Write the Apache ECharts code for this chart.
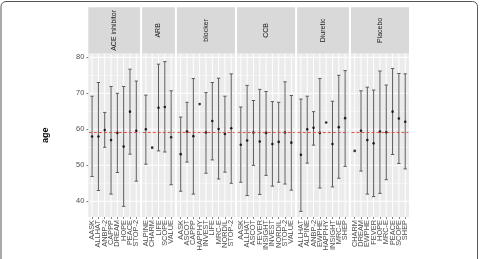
<!DOCTYPE html>
<html>
<head>
<meta charset="utf-8">
<script src="https://cdn.jsdelivr.net/npm/echarts@6/dist/echarts.min.js"></script>
<style>
  html, body { margin: 0; padding: 0; background: #ffffff; }
  #chart { width: 480px; height: 259px; }
</style>
</head>
<body>
<div id="chart"></div>
<script>
// overall mean age (red dashed line) and y tick values
const meanAge = 59.2;
const yTicks = [40, 50, 60, 70, 80];
const yMinor = [45, 55, 65, 75];

const drugClasses = ['ACE inhibitor', 'ARB', 'blocker', 'CCB', 'Diuretic', 'Placebo'];

const aceTrials = ['AASK', 'ALLHAT', 'ANBP-2', 'CAPPP', 'DREAM', 'HOPE', 'PEACE', 'STOP-2'];
const aceAge  = [58.0, 58.0, 59.8, 57.0, 59.0, 55.2, 64.9, 59.6];
const aceLow  = [46.9, 43.0, 55.0, 42.0, 48.0, 38.6, 53.1, 45.6];
const aceHigh = [69.2, 73.0, 64.7, 71.9, 70.0, 71.9, 76.7, 73.4];

const arbTrials = ['ALPINE', 'CHARM', 'LIFE', 'SCOPE', 'VALUE'];
const arbAge  = [60.0, 54.9, 66.0, 66.2, 57.8];
const arbLow  = [50.3, null, 54.0, 53.7, 44.6];
const arbHigh = [69.5, null, 78.1, 78.8, 70.7];

const blockerTrials = ['AASK', 'ASCOT', 'CAPPP', 'HAPPHY', 'INVEST', 'LIFE', 'MRC-E', 'NORDIL', 'STOP-2'];
const blockerAge  = [53.1, 59.4, 58.1, 67.0, 59.1, 62.3, 60.1, 58.7, 60.3];
const blockerLow  = [42.8, 50.9, 42.0, null, 47.8, 51.5, 46.2, 48.1, 45.0];
const blockerHigh = [63.4, 67.5, 74.1, null, 70.2, 73.0, 74.2, 69.2, 75.4];

const ccbTrials = ['AASK', 'ALLHAT', 'ASCOT', 'FEVER', 'INSIGHT', 'INVEST', 'NORDIL', 'STOP-2', 'VALUE'];
const ccbAge  = [55.7, 56.9, 59.1, 56.6, 59.0, 55.9, 56.5, 59.1, 56.3];
const ccbLow  = [45.3, 41.6, 50.0, 41.9, 47.2, 44.2, 45.3, 44.8, 43.1];
const ccbHigh = [66.2, 72.2, 68.0, 71.1, 70.5, 67.7, 67.5, 73.2, 69.4];

const diureticTrials = ['ALLHAT', 'ALPINE', 'ANBP-2', 'EWPHE', 'HAPPHY', 'INSIGHT', 'MRC-E', 'SHEP'];
const diureticAge  = [52.9, 60.0, 60.4, 59.0, 61.9, 55.9, 60.6, 63.1];
const diureticLow  = [37.2, 50.6, 55.6, 43.7, null, 44.0, 46.4, 49.7];
const diureticHigh = [68.4, 69.2, 64.9, 74.1, null, 67.8, 75.0, 76.3];

const placeboTrials = ['CHARM', 'DREAM', 'EWPHE', 'FEVER', 'HOPE', 'MRC-E', 'PEACE', 'SCOPE', 'SHEP'];
const placeboAge  = [54.0, 59.6, 57.0, 56.1, 59.4, 59.2, 64.9, 63.0, 62.1];
const placeboLow  = [null, 48.4, 42.0, 41.3, 42.2, 46.0, 53.0, 50.5, 49.0];
const placeboHigh = [null, 70.7, 71.7, 70.9, 76.2, 72.3, 76.9, 75.5, 75.4];

const panelData = [
  [aceTrials, aceAge, aceLow, aceHigh],
  [arbTrials, arbAge, arbLow, arbHigh],
  [blockerTrials, blockerAge, blockerLow, blockerHigh],
  [ccbTrials, ccbAge, ccbLow, ccbHigh],
  [diureticTrials, diureticAge, diureticLow, diureticHigh],
  [placeboTrials, placeboAge, placeboLow, placeboHigh]
];

// layout (ggplot-like facets)
const step = 6.315;      // px per category
const gap = 2;           // space between panels
const plotLeft = 88.3;
const plotTop = 53.5;
const plotBottom = 217;
const stripTop = 7.3;
const yMin = 35.64, yMax = 81.06;
const font = 'Liberation Sans';

let myChart = echarts.init(document.getElementById('chart'), null, { renderer: 'canvas' });

let grids = [], xAxes = [], yAxes = [], series = [], graphics = [];
let left = plotLeft;

panelData.forEach(function (p, k) {
  let trials = p[0], age = p[1], low = p[2], high = p[3];
  let n = trials.length;
  let panelW = (n + 0.2) * step;

  grids.push({ left: left + 0.1 * step, top: plotTop, width: n * step, height: plotBottom - plotTop });

  xAxes.push({
    gridIndex: k, type: 'category', data: trials, boundaryGap: true,
    axisLine: { show: false },
    axisTick: { show: true, alignWithLabel: true, length: 2, lineStyle: { color: '#333333', width: 0.6 } },
    axisLabel: { rotate: 90, interval: 0, fontSize: 7.4, fontFamily: font, color: '#4D4D4D', margin: 3 },
    splitLine: { show: false }
  });

  yAxes.push({
    gridIndex: k, type: 'value', min: yMin, max: yMax,
    offset: 0.1 * step,
    name: k === 0 ? 'age' : '',
    nameLocation: 'middle', nameGap: 38, nameRotate: 90,
    nameTextStyle: { fontWeight: 'bold', fontSize: 9, fontFamily: font, color: '#000000' },
    axisLine: { show: false },
    axisTick: { show: k === 0, length: 2, customValues: yTicks, lineStyle: { color: '#333333', width: 0.6 } },
    axisLabel: {
      show: k === 0, customValues: yTicks, fontSize: 7.4, fontFamily: font, color: '#4D4D4D', margin: 4,
      formatter: function (v) { return yTicks.indexOf(v) >= 0 ? String(v) : ''; }
    },
    splitLine: { show: false }
  });

  // panel background + white grid lines
  series.push({
    type: 'custom', xAxisIndex: k, yAxisIndex: k, z: 0, silent: true,
    data: [[0, 60]],
    renderItem: function (params, api) {
      let cs = params.coordSys;
      let pad = api.size([1, 0])[0] * 0.1;
      let kids = [{
        type: 'rect',
        shape: { x: cs.x - pad, y: cs.y, width: cs.width + 2 * pad, height: cs.height },
        style: { fill: '#EBEBEB' }
      }];
      yMinor.forEach(function (v) {
        let y = api.coord([0, v])[1];
        kids.push({ type: 'line', shape: { x1: cs.x - pad, y1: y, x2: cs.x + cs.width + pad, y2: y },
          style: { stroke: '#FFFFFF', lineWidth: 0.5 } });
      });
      yTicks.forEach(function (v) {
        let y = api.coord([0, v])[1];
        kids.push({ type: 'line', shape: { x1: cs.x - pad, y1: y, x2: cs.x + cs.width + pad, y2: y },
          style: { stroke: '#FFFFFF', lineWidth: 1 } });
      });
      for (let i = 0; i < n; i++) {
        let x = api.coord([i, 60])[0];
        kids.push({ type: 'line', shape: { x1: x, y1: cs.y, x2: x, y2: cs.y + cs.height },
          style: { stroke: '#FFFFFF', lineWidth: 1 } });
      }
      return { type: 'group', children: kids };
    }
  });

  // error bars
  let bars = [];
  for (let i = 0; i < n; i++) {
    if (low[i] != null) bars.push([i, low[i], high[i]]);
  }
  series.push({
    type: 'custom', xAxisIndex: k, yAxisIndex: k, z: 3, silent: true,
    encode: { x: 0, y: [1, 2] },
    data: bars,
    renderItem: function (params, api) {
      let lo = api.coord([api.value(0), api.value(1)]);
      let hi = api.coord([api.value(0), api.value(2)]);
      let hw = api.size([1, 0])[0] * 0.26;
      let st = { stroke: '#5A5A5A', lineWidth: 1 };
      return {
        type: 'group',
        children: [
          { type: 'line', shape: { x1: lo[0], y1: lo[1], x2: hi[0], y2: hi[1] }, style: st },
          { type: 'line', shape: { x1: lo[0] - hw, y1: lo[1], x2: lo[0] + hw, y2: lo[1] }, style: st },
          { type: 'line', shape: { x1: hi[0] - hw, y1: hi[1], x2: hi[0] + hw, y2: hi[1] }, style: st }
        ]
      };
    }
  });

  // mean age points + overall mean line
  series.push({
    type: 'scatter', xAxisIndex: k, yAxisIndex: k, z: 4, silent: true,
    symbol: 'circle', symbolSize: 2.6,
    itemStyle: { color: '#000000' },
    data: age.map(function (v, i) { return [i, v]; }),
    markLine: {
      silent: true, symbol: 'none', animation: false,
      label: { show: false },
      lineStyle: { color: '#E8413C', type: [3, 2], width: 0.9 },
      data: [{ yAxis: meanAge }]
    }
  });

  // facet strip
  graphics.push({
    type: 'rect', z: 1,
    shape: { x: left, y: stripTop, width: panelW, height: plotTop - stripTop },
    style: { fill: '#D9D9D9' }
  });
  graphics.push({
    type: 'text', z: 2,
    x: left + panelW / 2, y: (stripTop + plotTop) / 2,
    rotation: Math.PI / 2,
    style: { text: drugClasses[k], fill: '#1A1A1A', font: '7px "Liberation Sans"', align: 'center', verticalAlign: 'middle' }
  });

  left += panelW + gap;
});

// figure frame
graphics.push({
  type: 'rect', z: 5,
  shape: { x: 1, y: 1.5, width: 476.5, height: 300, r: 5 },
  style: { fill: 'none', stroke: '#555555', lineWidth: 1 }
});

let option = {
  animation: false,
  backgroundColor: '#ffffff',
  grid: grids,
  xAxis: xAxes,
  yAxis: yAxes,
  series: series,
  graphic: graphics
};

myChart.setOption(option);
</script>
</body>
</html>
